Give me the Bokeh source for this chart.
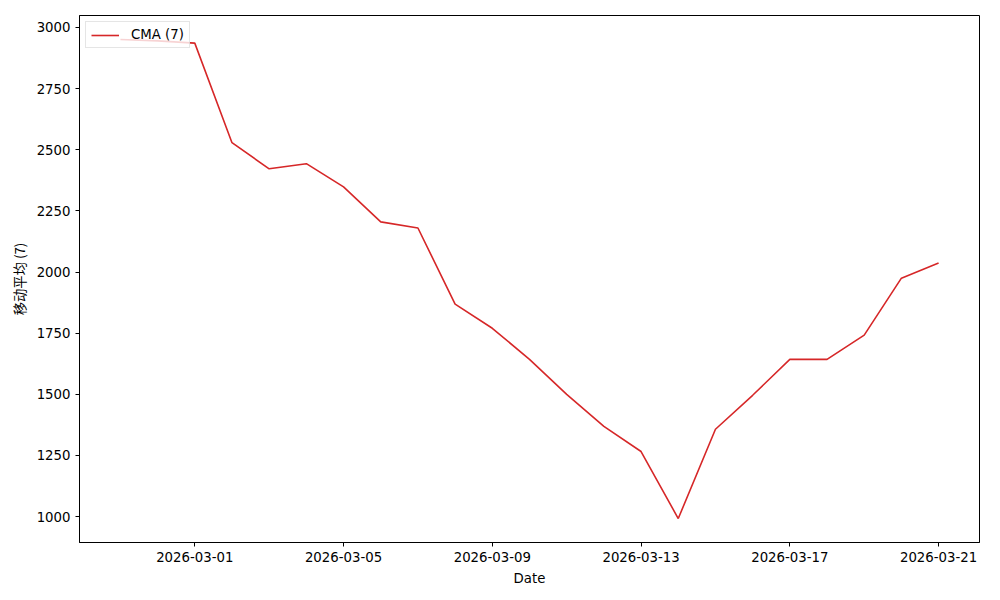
import pandas as pd
from bokeh.plotting import figure
from bokeh.models import FixedTicker, DatetimeTickFormatter, Legend, LegendItem, ColumnDataSource
from bokeh.embed import file_html
from bokeh.resources import INLINE

dates = ["2026-02-27", "2026-02-28", "2026-03-01", "2026-03-02", "2026-03-03", "2026-03-04",
         "2026-03-05", "2026-03-06", "2026-03-07", "2026-03-08", "2026-03-09", "2026-03-10",
         "2026-03-11", "2026-03-12", "2026-03-13", "2026-03-14", "2026-03-15", "2026-03-16",
         "2026-03-17", "2026-03-18", "2026-03-19", "2026-03-20", "2026-03-21"]
cma7 = [2951, 2945, 2936, 2529, 2422, 2443, 2348, 2205, 2180, 1869, 1770, 1643,
        1500, 1369, 1266, 992, 1357, 1496, 1643, 1643, 1742, 1975, 2037]
x_tick_dates = ["2026-03-01", "2026-03-05", "2026-03-09", "2026-03-13", "2026-03-17", "2026-03-21"]
y_ticks = [1000, 1250, 1500, 1750, 2000, 2250, 2500, 2750, 3000]

src = ColumnDataSource(dict(x=pd.to_datetime(dates), y=cma7))

p = figure(frame_width=900, frame_height=527, x_axis_type="datetime", output_backend="svg",
           toolbar_location=None, min_border_left=79, min_border_right=5,
           min_border_top=15, min_border_bottom=42)
p.xgrid.visible = False
p.ygrid.visible = False
p.outline_line_color = "black"
p.outline_line_width = 1
p.outline_line_alpha = 1

r = p.line("x", "y", source=src, line_color="#d62728", line_width=1.6)

tick_ms = [pd.Timestamp(d).value / 1e6 for d in x_tick_dates]
p.xaxis.ticker = FixedTicker(ticks=tick_ms)
fmt = "%Y-%m-%d"
p.xaxis.formatter = DatetimeTickFormatter(milliseconds=fmt, seconds=fmt, minsec=fmt, minutes=fmt,
                                          hourmin=fmt, hours=fmt, days=fmt, months=fmt, years=fmt)
p.yaxis.ticker = FixedTicker(ticks=y_ticks)

for ax in (p.xaxis[0], p.yaxis[0]):
    ax.major_tick_in = 0
    ax.major_tick_out = 4
    ax.minor_tick_in = 0
    ax.minor_tick_out = 0
    ax.axis_line_color = "black"
    ax.major_tick_line_color = "black"
    ax.major_label_text_font = "DejaVu Sans"
    ax.major_label_text_font_size = "13.3px"
    ax.major_label_text_color = "black"
    ax.axis_label_text_font_size = "13.3px"
    ax.axis_label_text_font_style = "normal"
    ax.axis_label_text_color = "black"

p.xaxis.axis_label = "Date"
p.xaxis.axis_label_text_font = "DejaVu Sans"
p.xaxis.axis_label_standoff = 6
p.yaxis.axis_label = "移动平均 (7)"
p.yaxis.axis_label_text_font = "Noto Sans CJK SC"
p.yaxis.axis_label_standoff = 5

legend = Legend(items=[LegendItem(label="CMA (7)", renderers=[r])], location="top_left")
legend.margin = 6
legend.padding = 5
legend.spacing = 0
legend.glyph_width = 28
legend.glyph_height = 14
legend.label_text_font = "DejaVu Sans"
legend.label_text_font_size = "13.3px"
legend.label_text_color = "black"
legend.label_standoff = 12
legend.border_line_color = "#cccccc"
legend.border_line_width = 1
legend.background_fill_alpha = 0.8
p.add_layout(legend)

open("out.html", "w").write(file_html(p, INLINE))
